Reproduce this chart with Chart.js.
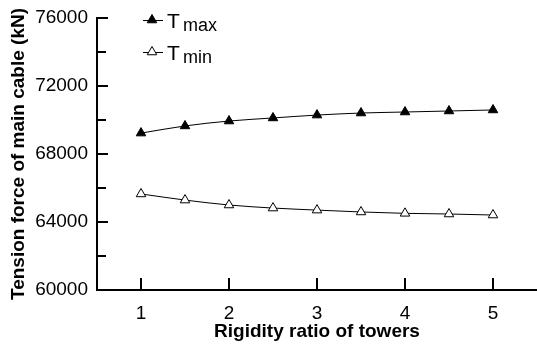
<!DOCTYPE html>
<html>
<head>
<meta charset="utf-8">
<script src="https://cdn.jsdelivr.net/npm/chart.js@4/dist/chart.umd.min.js"></script>
<style>
  html, body { margin: 0; padding: 0; background: #fff; }
  #wrap { width: 537px; height: 346px; }
</style>
</head>
<body>
<div id="wrap"><canvas id="chartTension" width="537" height="346"></canvas></div>
<script>
// data
const ratios = [1, 1.5, 2, 2.5, 3, 3.5, 4, 4.5, 5];
const tMax = [69230, 69650, 69940, 70120, 70290, 70410, 70470, 70530, 70590];
const tMin = [65650, 65290, 65000, 64820, 64700, 64590, 64510, 64470, 64410];
const xTicks = [1, 2, 3, 4, 5];
const yTicks = [60000, 62000, 64000, 66000, 68000, 70000, 72000, 74000, 76000];
const yLabelStep = 4000;

const font = "'Liberation Sans', Arial, sans-serif";

// inward ticks on the two axes + legend with subscripts
const ticksAndLegend = {
    id: 'ticksAndLegend',
    afterDraw(chart) {
        const ctx = chart.ctx;
        const area = chart.chartArea;
        const x = chart.scales.x;
        const y = chart.scales.y;
        ctx.save();
        ctx.strokeStyle = '#000';
        ctx.lineWidth = 2;
        yTicks.forEach(v => {
            const py = Math.round(y.getPixelForValue(v));
            const len = (v % yLabelStep === 0) ? 11 : 9;
            ctx.beginPath();
            ctx.moveTo(area.left, py);
            ctx.lineTo(area.left + len, py);
            ctx.stroke();
        });
        xTicks.forEach(v => {
            const px = Math.round(x.getPixelForValue(v));
            ctx.beginPath();
            ctx.moveTo(px, area.bottom);
            ctx.lineTo(px, area.bottom - 12);
            ctx.stroke();
        });

        // legend
        const rows = [
            { ds: chart.data.datasets[0], y: 20, sub: 'max' },
            { ds: chart.data.datasets[1], y: 52, sub: 'min' }
        ];
        rows.forEach(r => {
            ctx.lineWidth = 1;
            ctx.strokeStyle = '#000';
            ctx.beginPath();
            ctx.moveTo(143, r.y + 0.5);
            ctx.lineTo(163, r.y + 0.5);
            ctx.stroke();
            ctx.fillStyle = r.ds.pointBackgroundColor;
            ctx.strokeStyle = r.ds.pointBorderColor;
            ctx.lineWidth = r.ds.pointBorderWidth;
            Chart.helpers.drawPoint(ctx, { pointStyle: 'triangle', radius: r.ds.pointRadius, borderWidth: r.ds.pointBorderWidth }, 152, r.y);
            ctx.fillStyle = '#000';
            ctx.textBaseline = 'alphabetic';
            ctx.textAlign = 'left';
            ctx.font = '21px ' + font;
            ctx.fillText('T', 167, r.y + 8);
            ctx.font = '18px ' + font;
            ctx.fillText(r.sub, 183, r.y + 11);
        });
        ctx.restore();
    }
};

const ctx = document.getElementById('chartTension');
new Chart(ctx, {
    type: 'line',
    data: {
        datasets: [{
            label: 'Tmax',
            data: ratios.map((r, i) => ({ x: r, y: tMax[i] })),
            borderColor: '#000',
            borderWidth: 1,
            pointStyle: 'triangle',
            pointRadius: 5.5,
            pointBackgroundColor: '#000',
            pointBorderColor: '#000',
            pointBorderWidth: 1,
            cubicInterpolationMode: 'monotone'
        }, {
            label: 'Tmin',
            data: ratios.map((r, i) => ({ x: r, y: tMin[i] })),
            borderColor: '#000',
            borderWidth: 1,
            pointStyle: 'triangle',
            pointRadius: 5.5,
            pointBackgroundColor: '#fff',
            pointBorderColor: '#000',
            pointBorderWidth: 1,
            cubicInterpolationMode: 'monotone'
        }]
    },
    options: {
        responsive: false,
        animation: false,
        layout: { autoPadding: false, padding: { top: 18, right: 0, left: 0, bottom: 0 } },
        scales: {
            x: {
                type: 'linear',
                min: 0.5,
                max: 5.5,
                afterBuildTicks: s => { s.ticks = xTicks.map(v => ({ value: v })); },
                afterFit: s => { s.height = 56; s.paddingLeft = 0; s.paddingRight = 0; },
                grid: { display: false, drawTicks: false },
                border: { display: true, color: '#000', width: 2 },
                ticks: { color: '#000', padding: 12, font: { family: font, size: 19 } },
                title: {
                    display: true,
                    text: 'Rigidity ratio of towers',
                    color: '#000',
                    padding: { top: 0, bottom: 3 },
                    font: { family: font, size: 19, weight: 'bold' }
                }
            },
            y: {
                min: 60000,
                max: 76000,
                afterBuildTicks: s => { s.ticks = yTicks.map(v => ({ value: v })); },
                afterFit: s => { s.width = 97; s.paddingTop = 0; s.paddingBottom = 0; },
                grid: { display: false, drawTicks: false },
                border: { display: true, color: '#000', width: 2 },
                ticks: {
                    color: '#000',
                    padding: 9,
                    font: { family: font, size: 19 },
                    callback: v => (v % yLabelStep === 0 ? String(v) : '')
                },
                title: {
                    display: true,
                    text: 'Tension force of main cable (kN)',
                    color: '#000',
                    padding: { top: 7, bottom: 0 },
                    font: { family: font, size: 19, weight: 'bold' }
                }
            }
        },
        plugins: {
            legend: { display: false },
            tooltip: { enabled: false }
        }
    },
    plugins: [ticksAndLegend]
});
</script>
</body>
</html>
